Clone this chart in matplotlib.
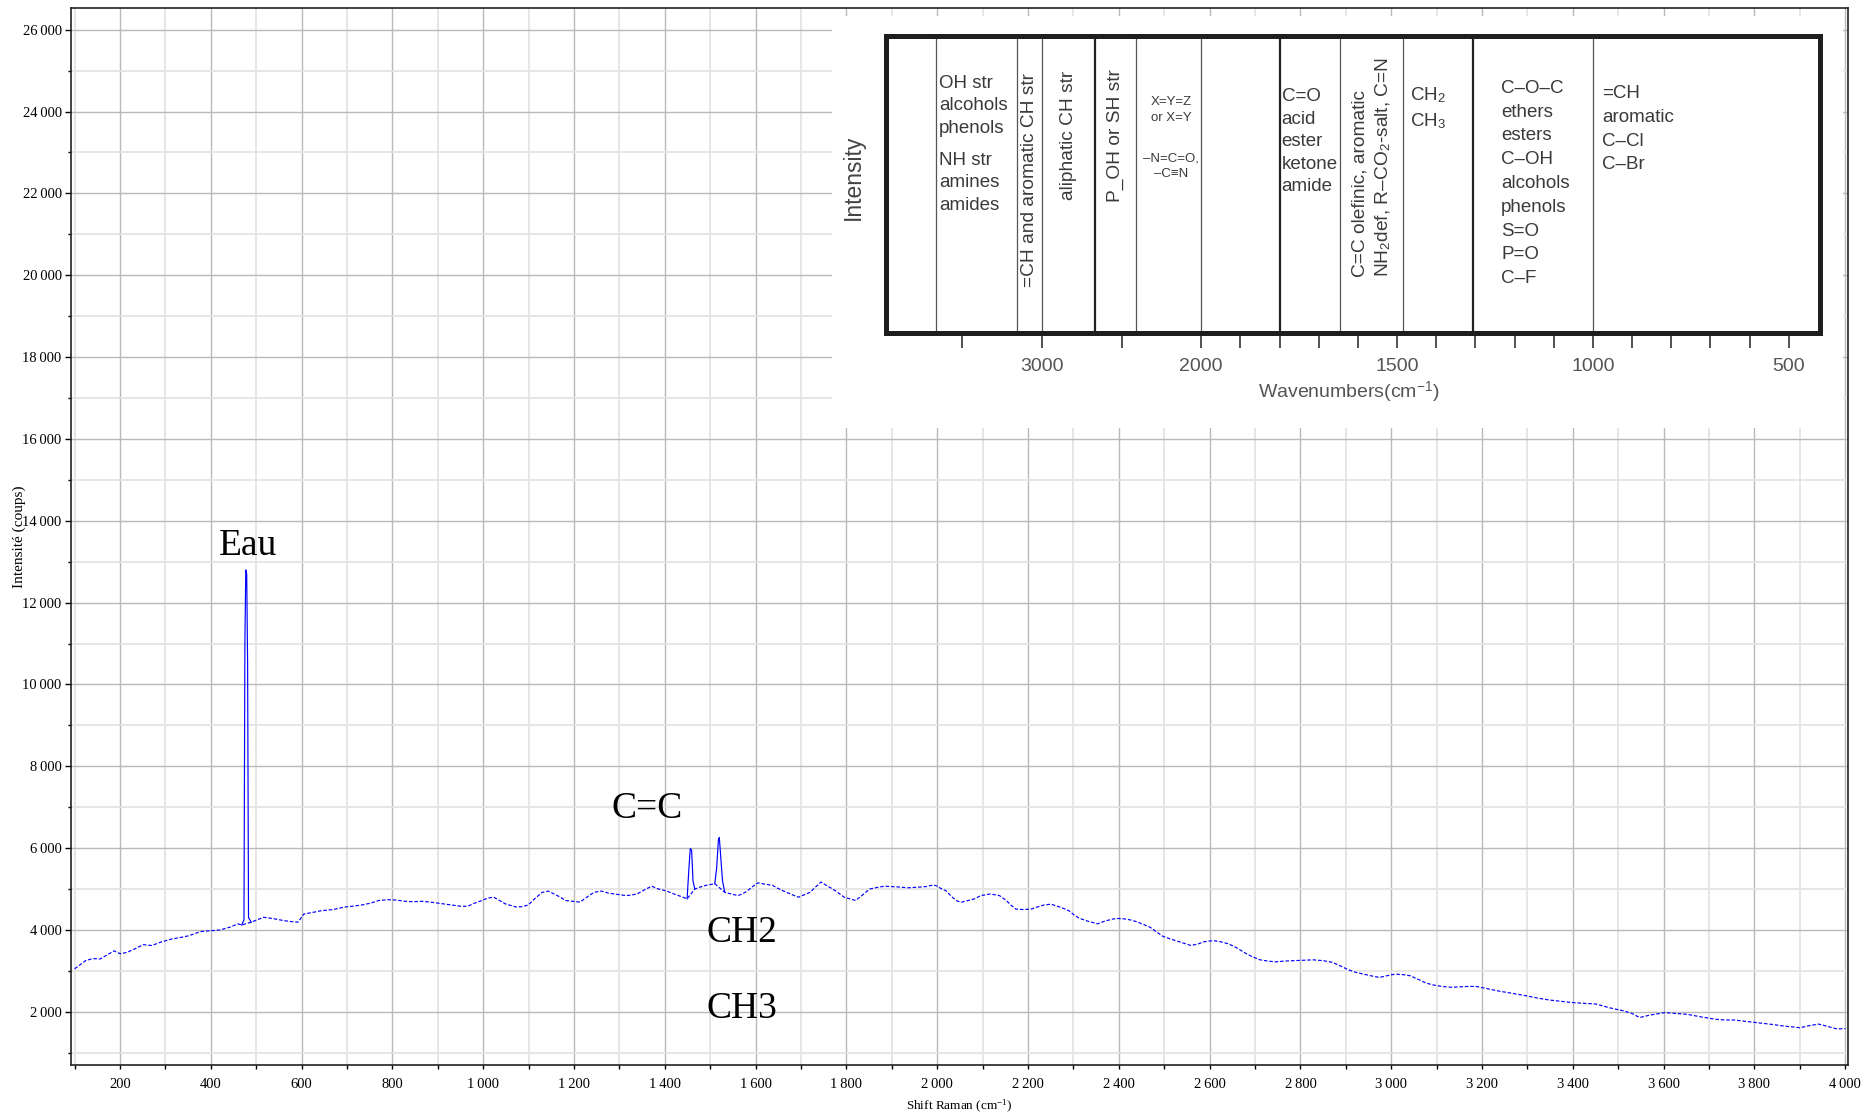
import numpy as np
import matplotlib
matplotlib.use('Agg')
import matplotlib.pyplot as plt
from matplotlib.patches import Rectangle
from matplotlib.ticker import MultipleLocator, FuncFormatter

plt.rcParams['font.family'] = ['Liberation Serif', 'DejaVu Serif']
plt.rcParams['mathtext.fontset'] = 'custom'
plt.rcParams['mathtext.rm'] = 'Liberation Serif'
plt.rcParams['mathtext.it'] = 'Liberation Serif:italic'
plt.rcParams['mathtext.sf'] = 'Liberation Sans'

SANS = ['Liberation Sans', 'DejaVu Sans']

# Raman spectrum baseline (cm-1, counts)
shift = [100, 112, 124, 140, 156, 170, 187, 200, 215, 235, 251, 270, 289, 314, 335,
         352, 377, 400, 420, 441, 460, 468,
         489, 505, 516, 530, 541, 560, 580, 592, 605, 625, 643, 670, 694, 712, 732,
         750, 770, 790, 808, 828, 846, 866, 884, 910, 935, 950, 966, 980, 997, 1010,
         1023, 1036, 1048, 1060, 1073, 1086, 1099, 1115, 1130, 1143, 1156, 1170, 1181,
         1197, 1213, 1228, 1244, 1260, 1276, 1295, 1314, 1325, 1339, 1355, 1371, 1386,
         1402, 1420, 1440, 1449,
         1466, 1478, 1491, 1500, 1510,
         1532, 1546, 1561, 1570, 1580, 1592, 1605, 1620, 1637, 1652, 1668, 1681, 1694,
         1707, 1720, 1732, 1744, 1757, 1770, 1783, 1795, 1808, 1820, 1835, 1851, 1868,
         1884, 1900, 1915, 1935, 1958, 1975, 1992, 2000, 2010, 2019, 2033, 2045, 2054,
         2068, 2082, 2096, 2117, 2137, 2152, 2163, 2173, 2190, 2207, 2220, 2235, 2250,
         2262, 2275, 2290, 2300, 2312, 2330, 2353, 2370, 2388, 2400, 2413, 2428, 2442,
         2455, 2469, 2483, 2497, 2511, 2525, 2542, 2559, 2575, 2587, 2608, 2625, 2642,
         2660, 2676, 2693, 2711, 2728, 2745, 2765, 2787, 2808, 2828, 2850, 2870, 2888,
         2905, 2920, 2939, 2955, 2974, 2990, 3008, 3025, 3042, 3060, 3077, 3095, 3111,
         3132, 3150, 3170, 3187, 3205, 3222, 3240, 3257, 3278, 3298, 3320, 3347, 3370,
         3395, 3420, 3451, 3480, 3513, 3530, 3547, 3570, 3602, 3625, 3651, 3680, 3713,
         3735, 3755, 3785, 3817, 3840, 3865, 3885, 3900, 3920, 3941, 3962, 3982, 4000]
counts = [3050, 3150, 3250, 3300, 3290, 3380, 3490, 3420, 3450, 3550, 3640, 3620, 3700, 3780, 3820,
          3860, 3960, 3980, 4000, 4065, 4150, 4120,
          4190, 4260, 4310, 4290, 4270, 4230, 4200, 4190, 4390, 4430, 4470, 4500, 4560, 4580, 4610,
          4650, 4720, 4740, 4730, 4700, 4690, 4700, 4680, 4640, 4600, 4580, 4580, 4650, 4720, 4780,
          4800, 4720, 4640, 4600, 4560, 4570, 4610, 4780, 4920, 4950, 4880, 4800, 4720,
          4700, 4680, 4800, 4920, 4950, 4900, 4870, 4840, 4850, 4880, 4980, 5070, 5000,
          4960, 4880, 4800, 4760,
          5000, 5050, 5090, 5110, 5130,
          4920, 4880, 4840, 4880, 4940, 5050, 5150, 5120, 5090, 5000, 4920, 4860, 4800,
          4860, 4920, 5050, 5170, 5080, 5000, 4900, 4800, 4760, 4720, 4850, 5000, 5040,
          5070, 5060, 5050, 5030, 5045, 5060, 5100, 5070, 5000, 4960, 4800, 4700, 4680,
          4720, 4760, 4840, 4880, 4840, 4720, 4600, 4510, 4500, 4510, 4560, 4610, 4630,
          4590, 4540, 4470, 4380, 4290, 4220, 4150, 4220, 4270, 4280, 4270, 4240, 4190,
          4130, 4065, 3950, 3845, 3790, 3740, 3680, 3620, 3660, 3710, 3740, 3710, 3660,
          3560, 3450, 3350, 3270, 3240, 3220, 3240, 3250, 3260, 3270, 3250, 3210, 3120,
          3030, 2970, 2920, 2880, 2840, 2880, 2920, 2910, 2880, 2790, 2700, 2650, 2620,
          2600, 2610, 2620, 2620, 2580, 2540, 2500, 2470, 2430, 2390, 2340, 2290, 2260,
          2230, 2210, 2190, 2100, 2020, 1960, 1860, 1920, 1980, 1960, 1940, 1880, 1820,
          1800, 1800, 1760, 1720, 1690, 1650, 1630, 1610, 1660, 1700, 1640, 1580, 1590]

# the sharp peaks, each starting and ending on the baseline
eau_shift = [468, 473, 475, 477, 479, 481, 483, 489]
eau_counts = [4120, 4250, 11000, 12800, 12700, 10500, 4300, 4190]
cc_shift = [1449, 1453, 1456, 1459, 1462, 1466]
cc_counts = [4760, 5500, 5990, 5950, 5200, 5000]
ch_shift = [1510, 1514, 1518, 1520, 1523, 1527, 1532]
ch_counts = [5130, 5500, 6200, 6260, 5800, 5200, 4920]

peak_labels = ['Eau', 'C=C', 'CH2', 'CH3']
peak_label_x = [482, 1362, 1569, 1569]
peak_label_y = [13160, 6730, 3700, 1840]

# IR correlation chart inset (wavenumbers, cm-1)
IR_SCALE = 2.46   # the chart is stretched below 2000 cm-1
ir_ticks = [3500, 3000, 2500, 2000, 1900, 1800, 1700, 1600, 1500, 1400, 1300,
            1200, 1100, 1000, 900, 800, 700, 600, 500]
ir_tick_labels = {3000: '3000', 2000: '2000', 1500: '1500', 1000: '1000', 500: '500'}
ir_dividers = [3665, 3155, 3000, 2670, 2410, 2000, 1800, 1645, 1485, 1305, 1000]
ir_heavy = [2670, 1800, 1305]

ir_blocks = [
    (3648, 0.869, 1.42, 'OH str\nalcohols\nphenols'),
    (3648, 0.610, 1.42, 'NH str\namines\namides'),
    (1795, 0.824, 1.42, 'C=O\nacid\nester\nketone\namide'),
    (1466, 0.835, 1.42, 'CH$_\\mathsf{2}$\nCH$_\\mathsf{3}$'),
    (1234, 0.852, 1.52, 'C\u2013O\u2013C\nethers\nesters\nC\u2013OH\nalcohols\nphenols\nS=O\nP=O\nC\u2013F'),
    (977, 0.835, 1.52, '=CH\naromatic\nC\u2013Cl\nC\u2013Br'),
]
ir_small = [
    (2188, 0.798, 'X=Y=Z\nor X=Y'),
    (2188, 0.607, '\u2013N=C=O,\n\u2013C\u2261N'),
]
ir_vertical = [
    (3081, 0.155, '=CH and aromatic CH str'),
    (2836, 0.448, 'aliphatic CH str'),
    (2540, 0.442, 'P_OH or SH str'),
    (1595, 0.190, 'C=C olefinic, aromatic'),
    (1536, 0.190, 'NH$_\\mathsf{2}$def, R\u2013CO$_\\mathsf{2}$-salt, C=N'),
]


def ir_pos(wn):
    """position along the IR chart axis, with the scale change at 2000"""
    wn = np.asarray(wn, dtype=float)
    return np.interp(-wn, [-4000, -2000, -400], [0, 2000, 2000 + 1600 * IR_SCALE])


W, H = 1864, 1115


def px_rect(left, top, right, bottom):
    return [left / W, 1 - bottom / H, (right - left) / W, (bottom - top) / H]


fig = plt.figure(figsize=(W / 100, H / 100), dpi=100)

# ---- main spectrum ----
ax = fig.add_axes(px_rect(71, 8, 1848, 1065))
ax.plot(shift, counts, color='#0000ff', lw=0.85, dashes=(3, 1.6))
for xs, ys in [(eau_shift, eau_counts), (cc_shift, cc_counts), (ch_shift, ch_counts)]:
    ax.plot(xs, ys, color='#0000ff', lw=0.85)

for lab, x, y in zip(peak_labels, peak_label_x, peak_label_y):
    ax.text(x, y, lab, fontsize=27, ha='center', va='baseline')

ax.set_xlim(92, 4006)
ax.set_ylim(700, 26530)
ax.xaxis.set_major_locator(MultipleLocator(200))
ax.xaxis.set_minor_locator(MultipleLocator(100))
ax.yaxis.set_major_locator(MultipleLocator(2000))
ax.yaxis.set_minor_locator(MultipleLocator(1000))
thin = FuncFormatter(lambda v, p: f'{int(v):,}'.replace(',', '\u2009'))
ax.xaxis.set_major_formatter(thin)
ax.yaxis.set_major_formatter(thin)
ax.tick_params(axis='x', which='both', length=3, width=1, pad=6.5, labelsize=10.5)
ax.tick_params(axis='y', which='major', length=4.3, width=1, pad=2.4, labelsize=10.5)
ax.tick_params(axis='y', which='minor', length=2.2, width=1)
ax.grid(which='major', color='#b9b9b9', lw=1.0)
ax.grid(which='minor', color='#e4e4e4', lw=1.3)
ax.set_axisbelow(True)
for sp in ax.spines.values():
    sp.set_color('#222222')
    sp.set_linewidth(1.2)

ax.set_ylabel('Intensité (coups)', fontsize=11)
ax.yaxis.set_label_coords(-0.0256, 0.5)
ax.set_xlabel('Shift Raman (cm$^{-1}$)', fontsize=9.5)
ax.xaxis.set_label_coords(0.5, -0.0312)

# white area behind the pasted chart
fig.add_artist(Rectangle((832 / W, 1 - 428 / H), (1843 - 832) / W, (428 - 16) / H,
                         transform=fig.transFigure, facecolor='white',
                         edgecolor='none', zorder=1))

# ---- IR correlation chart ----
ax_in = fig.add_axes(px_rect(886, 36, 1820, 333), zorder=2)
ax_in.set_xlim(ir_pos(3980), ir_pos(420))
ax_in.set_ylim(0, 1)
ax_in.set_yticks([])
ax_in.set_xticks(ir_pos(ir_ticks), [ir_tick_labels.get(t, '') for t in ir_ticks],
                 family=SANS, color='#555555')
ax_in.tick_params(axis='x', direction='out', length=11, width=1.1, color='#222222',
                  pad=7, labelsize=14)
for sp in ax_in.spines.values():
    sp.set_color('#1e1e1e')
    sp.set_linewidth(3.6)

for wn in ir_dividers:
    heavy = wn in ir_heavy
    ax_in.axvline(ir_pos(wn), color='#222222' if heavy else '#555555',
                  lw=1.6 if heavy else 0.9)

for wn, y, ls, txt in ir_blocks:
    ax_in.text(ir_pos(wn), y, txt, ha='left', va='top', fontsize=13.5,
               linespacing=ls, color='#3a3a3a', family=SANS)
for wn, y, txt in ir_small:
    ax_in.text(ir_pos(wn), y, txt, ha='center', va='top', fontsize=9.5,
               linespacing=1.4, color='#3a3a3a', family=SANS)
for wn, y, txt in ir_vertical:
    ax_in.text(ir_pos(wn), y, txt, ha='center', va='bottom', rotation=90,
               fontsize=13.8, color='#3a3a3a', family=SANS)

ax_in.text(0.496, -0.199, 'Wavenumbers(cm$^{\\mathsf{-1}}$)', transform=ax_in.transAxes,
           ha='center', va='center', fontsize=14, color='#555555', family=SANS)
ax_in.text(-0.035, 0.525, 'Intensity', transform=ax_in.transAxes, rotation=90,
           ha='center', va='center', fontsize=16.5, color='#444444', family=SANS)

fig.savefig('out.png', dpi=100)
